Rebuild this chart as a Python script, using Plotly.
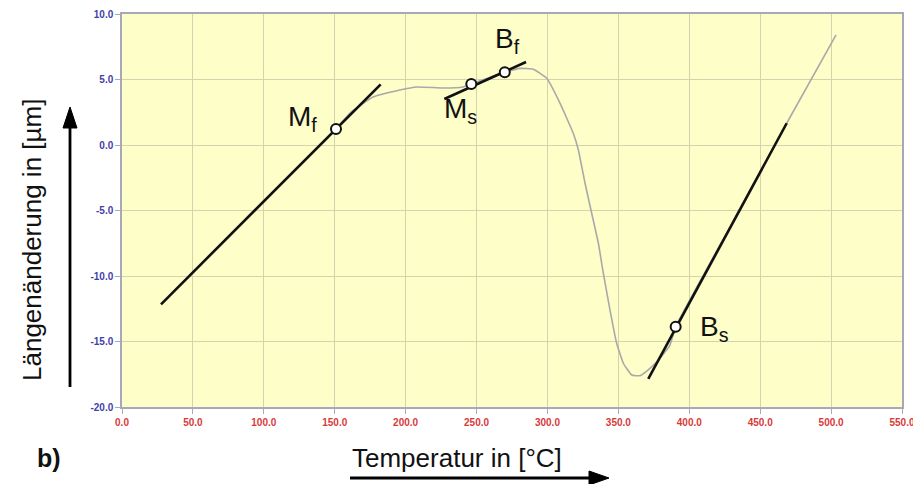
import plotly.graph_objects as go

# Dilatometer curve (gray) - temperature [°C] vs length change [µm]
curve_T = [150.9, 160.8, 177.0, 196.0, 208.0, 226.4, 240.5, 246.3, 269.9, 280.6, 290.0,
           299.5, 308.9, 318.2, 321.8, 326.5, 331.2, 335.9, 339.4, 344.1, 348.8, 353.5,
           359.4, 365.3, 372.3, 379.4, 386.4, 390.4, 428.7, 468.7, 503.5]
curve_dL = [1.22, 2.44, 3.66, 4.20, 4.43, 4.35, 4.43, 4.66, 5.55, 5.85, 5.78,
            5.09, 3.18, 0.89, -0.38, -2.92, -5.21, -7.50, -9.79, -12.60, -15.14, -16.66,
            -17.56, -17.61, -17.05, -16.28, -15.27, -13.87, -6.26, 1.66, 8.40]

# Tangent lines (black)
tan_Mf_T = [27.5, 182.4]
tan_Mf_dL = [-12.16, 4.63]
tan_MsBf_T = [227.3, 284.9]
tan_MsBf_dL = [3.51, 6.34]
tan_Bs_T = [371.1, 468.7]
tan_Bs_dL = [-17.86, 1.66]

# Characteristic points
pt_names = ["M<sub>f</sub>", "M<sub>s</sub>", "B<sub>f</sub>", "B<sub>s</sub>"]
pt_T = [150.9, 246.3, 269.9, 390.4]
pt_dL = [1.22, 4.66, 5.55, -13.87]
# label anchor positions (data coords)
lbl_T = [127.0, 239.0, 272.0, 418.0]
lbl_dL = [2.0, 2.6, 8.0, -14.0]

x_ticks = [0, 50, 100, 150, 200, 250, 300, 350, 400, 450, 500, 550]
y_ticks = [-20, -15, -10, -5, 0, 5, 10]

# plot-area geometry in pixels (for placing outside texts/arrows)
L, R, T, B = 122, 902, 14, 407
W, H = R - L, B - T


def px(xp):
    return (xp - L) / W


def py(yp):
    return (B - yp) / H


fig = go.Figure()

fig.add_trace(go.Scatter(x=curve_T, y=curve_dL, mode="lines",
                         line=dict(color="#a9a9a9", width=1.6, shape="spline", smoothing=0.4),
                         hoverinfo="skip"))
for xs, ys in [(tan_Mf_T, tan_Mf_dL), (tan_MsBf_T, tan_MsBf_dL), (tan_Bs_T, tan_Bs_dL)]:
    fig.add_trace(go.Scatter(x=xs, y=ys, mode="lines",
                             line=dict(color="#111111", width=2.6), hoverinfo="skip"))

fig.add_trace(go.Scatter(x=pt_T, y=pt_dL, mode="markers",
                         marker=dict(size=10, color="white",
                                     line=dict(color="#111111", width=2)),
                         hoverinfo="skip"))

for name, tx, ty in zip(pt_names, lbl_T, lbl_dL):
    fig.add_annotation(x=tx, y=ty, xref="x", yref="y", text=name, showarrow=False,
                       xanchor="center", yanchor="middle",
                       font=dict(family="Liberation Sans, Arial", size=28, color="#111111"))

# axis titles
fig.add_annotation(x=px(32), y=py(240), xref="paper", yref="paper",
                   xanchor="center", yanchor="middle",
                   text="Längenänderung in [µm]", textangle=-90, showarrow=False,
                   font=dict(family="Liberation Sans, Arial", size=26, color="#111111"))
fig.add_annotation(x=px(457), y=py(458), xref="paper", yref="paper",
                   xanchor="center", yanchor="middle",
                   text="Temperatur in [°C]", showarrow=False,
                   font=dict(family="Liberation Sans, Arial", size=26, color="#111111"))
fig.add_annotation(x=px(49), y=py(458), xref="paper", yref="paper",
                   xanchor="center", yanchor="middle",
                   text="<b>b)</b>", showarrow=False,
                   font=dict(family="Liberation Sans, Arial", size=25, color="#111111"))

# arrows as shapes
shapes = [
    dict(type="line", xref="paper", yref="paper", x0=px(70), y0=py(387), x1=px(70), y1=py(124),
         line=dict(color="#000000", width=2.8)),
    dict(type="path", xref="paper", yref="paper",
         path=f"M {px(70)} {py(107)} L {px(63)} {py(128)} L {px(77)} {py(128)} Z",
         fillcolor="#000000", line=dict(color="#000000", width=1)),
    dict(type="line", xref="paper", yref="paper", x0=px(350), y0=py(478), x1=px(592), y1=py(478),
         line=dict(color="#000000", width=2.8)),
    dict(type="path", xref="paper", yref="paper",
         path=f"M {px(609)} {py(478)} L {px(589)} {py(471)} L {px(589)} {py(485)} Z",
         fillcolor="#000000", line=dict(color="#000000", width=1)),
]

fig.update_layout(
    width=913, height=484,
    margin=dict(l=L, r=913 - R, t=T, b=484 - B, autoexpand=False),
    paper_bgcolor="white",
    plot_bgcolor="#fefec9",
    showlegend=False,
    shapes=shapes,
)
fig.update_xaxes(range=[0, 550], tickvals=x_ticks, ticktext=[f"{v:.1f}" for v in x_ticks],
                 showgrid=True, gridcolor="#d3d3ad", gridwidth=1,
                 showline=True, linecolor="#a8a8b8", linewidth=1.5, mirror=True,
                 ticks="outside", ticklen=5, tickcolor="#a8a8b8",
                 ticklabeloverflow="allow",
                 tickfont=dict(family="Liberation Sans, Arial", size=10, color="#d83a3a", weight="bold"),
                 zeroline=False, fixedrange=True, automargin=False)
fig.update_yaxes(range=[-20, 10], tickvals=y_ticks, ticktext=[f"{v:.1f}" for v in y_ticks],
                 showgrid=True, gridcolor="#d3d3ad", gridwidth=1,
                 showline=True, linecolor="#a8a8b8", linewidth=1.5, mirror=True,
                 ticks="outside", ticklen=5, tickcolor="#a8a8b8",
                 ticklabeloverflow="allow",
                 tickfont=dict(family="Liberation Sans, Arial", size=10, color="#3f3fa8", weight="bold"),
                 zeroline=False, fixedrange=True, automargin=False)

fig.write_html("out.html")
